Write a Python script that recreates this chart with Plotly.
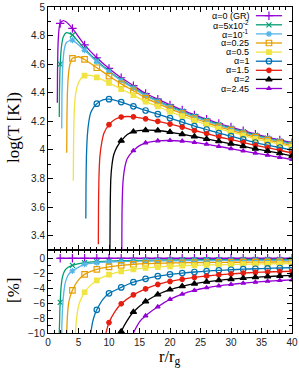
import plotly.graph_objects as go

# ---------------- data ----------------
alpha_labels = ["α=0 (GR)", "α=5x10<sup>-2</sup>", "α=10<sup>-1</sup>", "α=0.25",
                "α=0.5", "α=1", "α=1.5", "α=2", "α=2.45"]
colors = ["#9400d3", "#009e73", "#56b4e9", "#e69f00", "#f0e442",
          "#0072b2", "#e51e10", "#000000", "#9400d3"]
symbols = ["cross-thin-open", "x-thin-open", "asterisk-open", "square-open", "square",
           "circle-open", "circle", "triangle-up", "triangle-up"]
msizes = [6, 5, 5, 5.5, 4.5, 5.5, 4.5, 5.5, 4]

x_ticks = [0, 5, 10, 15, 20, 25, 30, 35, 40]
top_ticks = [3.4, 3.6, 3.8, 4.0, 4.2, 4.4, 4.6, 4.8, 5.0]
bot_ticks = [-10, -8, -6, -4, -2, 0]

# marker points sit on even r values, starting at these radii
top_start = [2, 2, 4, 4, 6, 8, 10, 12, 14]
bot_start = [2, 2, 4, 4, 6, 8, 10, 12, 16]

# top panel: log T at the marker radii (r = start, start+2, ..., 40)
top_T = [
    [4.885, 4.85, 4.735, 4.645, 4.57, 4.505, 4.45, 4.395, 4.355, 4.315, 4.28, 4.245, 4.215, 4.185, 4.16, 4.135, 4.11, 4.09, 4.07, 4.05],
    [4.60, 4.804, 4.707, 4.624, 4.553, 4.490, 4.437, 4.383, 4.344, 4.305, 4.271, 4.236, 4.207, 4.177, 4.153, 4.128, 4.103, 4.083, 4.063, 4.044],
    [4.768, 4.697, 4.617, 4.547, 4.485, 4.432, 4.378, 4.339, 4.300, 4.266, 4.231, 4.202, 4.172, 4.148, 4.123, 4.098, 4.079, 4.059, 4.039],
    [4.641, 4.633, 4.575, 4.517, 4.462, 4.414, 4.363, 4.325, 4.287, 4.254, 4.220, 4.191, 4.162, 4.138, 4.113, 4.089, 4.069, 4.050, 4.030],
    [4.520, 4.507, 4.469, 4.426, 4.384, 4.338, 4.304, 4.268, 4.237, 4.205, 4.177, 4.149, 4.125, 4.102, 4.078, 4.059, 4.040, 4.021],
    [4.324, 4.355, 4.335, 4.305, 4.276, 4.250, 4.222, 4.195, 4.167, 4.143, 4.117, 4.096, 4.074, 4.052, 4.034, 4.017, 3.999],
    [4.177, 4.230, 4.232, 4.218, 4.200, 4.181, 4.160, 4.136, 4.115, 4.092, 4.073, 4.053, 4.032, 4.016, 3.996, 3.979],
    [4.064, 4.128, 4.138, 4.136, 4.125, 4.110, 4.094, 4.077, 4.060, 4.043, 4.026, 4.008, 3.992, 3.976, 3.958],
    [3.995, 4.050, 4.064, 4.066, 4.062, 4.053, 4.040, 4.025, 4.009, 3.993, 3.978, 3.963, 3.948, 3.933],
]
# top panel: extra line points (inner steep rise / peak), no markers
top_extra_r = [
    [1.53, 1.56, 1.62, 1.72, 1.85, 2.5, 3.0],
    [1.85, 1.88, 1.93, 2.2, 2.5, 3.0, 3.5],
    [2.25, 2.28, 2.34, 2.45, 2.65, 3.0, 3.5],
    [3.07, 3.10, 3.17, 3.3, 3.5, 3.75, 5.0],
    [4.15, 4.18, 4.25, 4.4, 4.6, 5.0, 5.5, 7.0],
    [6.2, 6.23, 6.3, 6.45, 6.7, 7.0, 7.5, 9.0],
    [8.25, 8.28, 8.35, 8.5, 8.8, 9.2, 11.0, 13.0],
    [10.15, 10.2, 10.3, 10.5, 10.8, 11.3, 13.0],
    [12.1, 12.15, 12.3, 12.6, 13.0, 15.0],
]
top_extra_T = [
    [4.33, 4.55, 4.70, 4.80, 4.86, 4.905, 4.895],
    [4.23, 4.40, 4.52, 4.72, 4.79, 4.82, 4.815],
    [4.15, 4.35, 4.50, 4.61, 4.70, 4.75, 4.764],
    [3.98, 4.20, 4.38, 4.50, 4.58, 4.62, 4.652],
    [3.785, 4.0, 4.2, 4.34, 4.41, 4.47, 4.505, 4.522],
    [3.52, 3.75, 3.95, 4.10, 4.20, 4.26, 4.30, 4.35],
    [3.34, 3.60, 3.80, 3.95, 4.05, 4.12, 4.215, 4.234],
    [3.30, 3.60, 3.80, 3.90, 3.97, 4.02, 4.108],
    [3.30, 3.60, 3.78, 3.88, 3.94, 4.03],
]

# bottom panel: relative difference [%] at the marker radii
bot_p = [
    [0.0] * 20,
    [-5.9, -0.95, -0.6, -0.45, -0.38, -0.33, -0.3, -0.27, -0.25, -0.23, -0.22, -0.21, -0.2, -0.19, -0.18, -0.17, -0.17, -0.16, -0.16, -0.15],
    [-1.7, -0.81, -0.6, -0.5, -0.45, -0.41, -0.38, -0.36, -0.34, -0.33, -0.32, -0.31, -0.3, -0.3, -0.29, -0.29, -0.28, -0.28, -0.27],
    [-4.3, -2.16, -1.5, -1.17, -0.95, -0.81, -0.72, -0.68, -0.64, -0.61, -0.59, -0.57, -0.55, -0.54, -0.53, -0.52, -0.51, -0.5, -0.5],
    [-4.55, -2.97, -2.2, -1.76, -1.49, -1.3, -1.18, -1.08, -1.0, -0.95, -0.9, -0.86, -0.83, -0.8, -0.77, -0.75, -0.73, -0.71],
    [-6.9, -4.7, -3.9, -3.2, -2.75, -2.4, -2.15, -1.98, -1.84, -1.72, -1.62, -1.54, -1.47, -1.41, -1.36, -1.31, -1.27],
    [-8.6, -6.1, -4.9, -4.1, -3.5, -3.1, -2.8, -2.57, -2.38, -2.22, -2.1, -1.99, -1.9, -1.84, -1.78, -1.74],
    [-9.8, -7.2, -5.8, -4.85, -4.2, -3.75, -3.4, -3.15, -2.95, -2.8, -2.66, -2.55, -2.45, -2.37, -2.3],
    [-7.7, -6.5, -5.5, -4.8, -4.3, -3.95, -3.7, -3.5, -3.33, -3.2, -3.08, -2.98, -2.9],
]
bot_extra_r = [
    [1.53],
    [1.85, 1.9, 1.95, 2.15, 2.4, 2.8, 3.3],
    [2.25, 2.3, 2.4, 2.55, 2.8, 3.2, 3.6],
    [3.07, 3.12, 3.2, 3.35, 3.6, 5.0],
    [4.5, 4.6, 4.8, 5.1, 5.5, 7.0],
    [7.0, 7.3, 7.6, 9.0],
    [9.5, 11.0],
    [11.9, 13.0],
    [14.0, 14.5, 15.0],
]
bot_extra_p = [
    [0.0],
    [-10, -8.5, -6.8, -3.8, -2.4, -1.6, -1.2],
    [-10, -8.3, -6.5, -4.9, -3.4, -2.4, -1.95],
    [-10, -8.8, -7.5, -6.2, -5.2, -2.9],
    [-10, -8.8, -7.3, -6.1, -5.3, -3.6],
    [-10, -8.6, -7.7, -5.5],
    [-10, -7.1],
    [-10, -8.3],
    [-10, -9.2, -8.5],
]

# ---------------- figure ----------------
TICKFONT = dict(family="Liberation Sans, Arial, sans-serif", size=10, color="#222")
TITLEFONT = dict(family="Liberation Serif, Times New Roman, serif", size=17, color="black")
LEGFONT = dict(family="Liberation Sans, Arial, sans-serif", size=9, color="black")
SPLIT = 0.2546

fig = go.Figure()


def add_curve(i, start, vals, ex_r, ex_v, xa, ya):
    mr = list(range(start, start + 2 * len(vals), 2))
    pts = sorted(list(zip(mr, vals)) + list(zip(ex_r, ex_v)))
    fig.add_trace(go.Scatter(
        x=[p[0] for p in pts], y=[p[1] for p in pts], mode="lines",
        line=dict(color=colors[i], width=1.3, shape="spline", smoothing=0.6),
        xaxis=xa, yaxis=ya, showlegend=False, hoverinfo="skip"))
    fig.add_trace(go.Scatter(
        x=mr, y=vals, mode="markers",
        marker=dict(symbol=symbols[i], size=msizes[i], color=colors[i],
                    line=dict(color=colors[i], width=1.2)),
        xaxis=xa, yaxis=ya, showlegend=False, name=alpha_labels[i]))


for i in range(len(alpha_labels)):
    add_curve(i, top_start[i], top_T[i], top_extra_r[i], top_extra_T[i], "x2", "y2")
    add_curve(i, bot_start[i], bot_p[i], bot_extra_r[i], bot_extra_p[i], "x", "y")

# legend drawn gnuplot-style (label on the left, sample on the right)
leg_y0, leg_dy = 0.9642, 0.03745
leg_x0, leg_x1, leg_tx = 0.852, 0.959, 0.828
for i, lab in enumerate(alpha_labels):
    yy = leg_y0 - i * leg_dy
    fig.add_trace(go.Scatter(
        x=[leg_x0, (leg_x0 + leg_x1) / 2, leg_x1], y=[yy, yy, yy], mode="lines+markers",
        line=dict(color=colors[i], width=1.3),
        marker=dict(symbol=symbols[i], size=msizes[i], color=colors[i],
                    line=dict(color=colors[i], width=1.2), opacity=[0, 1, 0]),
        xaxis="x3", yaxis="y3", showlegend=False, hoverinfo="skip"))
    fig.add_annotation(x=leg_tx, y=yy, xref="x3", yref="y3", text=lab, showarrow=False,
                       xanchor="right", yanchor="middle", font=LEGFONT, borderpad=0)

# axis titles
fig.add_annotation(x=-0.1434, y=0.6288, xref="paper", yref="paper", text="log(T [K])",
                   textangle=-90, showarrow=False, xanchor="center", yanchor="middle",
                   font=TITLEFONT)
fig.add_annotation(x=-0.1434, y=0.1288, xref="paper", yref="paper", text="[%]",
                   textangle=-90, showarrow=False, xanchor="center", yanchor="middle",
                   font=TITLEFONT)
fig.add_annotation(x=0.5, y=-0.0752, xref="paper", yref="paper", text="r/r<sub>g</sub>",
                   showarrow=False, xanchor="center", yanchor="middle",
                   font=dict(TITLEFONT, size=16.5), borderpad=0)

common_x = dict(range=[0, 40], tickvals=x_ticks, ticks="inside", ticklen=5, tickcolor="black",
                showline=True, linecolor="black", linewidth=1, mirror="allticks",
                showgrid=False, zeroline=False, tickfont=TICKFONT, ticklabeloverflow="allow",
                minor=dict(ticks="inside", ticklen=3, dtick=1, tickcolor="black", showgrid=False))

fig.update_layout(
    width=299, height=368,
    margin=dict(l=48, r=7, t=7, b=35, autoexpand=False),
    paper_bgcolor="white", plot_bgcolor="white",
    showlegend=False,
    xaxis=dict(**common_x, anchor="y", automargin=False),
    xaxis2=dict(**common_x, anchor="y2", matches="x", showticklabels=False),
    yaxis=dict(domain=[0, SPLIT], range=[-10, 1.1], tickvals=bot_ticks,
               ticks="inside", ticklen=5, tickcolor="black", showline=True, linecolor="black",
               linewidth=1, mirror="allticks", showgrid=False, zeroline=False, tickfont=TICKFONT,
               minor=dict(ticks="inside", ticklen=3, dtick=1, tickcolor="black", showgrid=False),
               anchor="x", automargin=False),
    yaxis2=dict(domain=[SPLIT, 1], range=[3.3, 5.0], tickvals=top_ticks,
                ticktext=["3.4", "3.6", "3.8", "4", "4.2", "4.4", "4.6", "4.8", "5"],
                ticks="inside", ticklen=5, tickcolor="black", showline=True, linecolor="black",
                linewidth=1, mirror="allticks", showgrid=False, zeroline=False, tickfont=TICKFONT,
                minor=dict(ticks="inside", ticklen=3, dtick=0.1, tickcolor="black", showgrid=False),
                anchor="x2", automargin=False),
    xaxis3=dict(overlaying="x2", range=[0, 1], visible=False, anchor="y3"),
    yaxis3=dict(overlaying="y2", range=[0, 1], visible=False, anchor="x3"),
)

fig.write_html("out.html", config={"displayModeBar": False, "staticPlot": True},
               post_script="document.body.style.margin='0px';document.body.style.overflow='hidden';")
